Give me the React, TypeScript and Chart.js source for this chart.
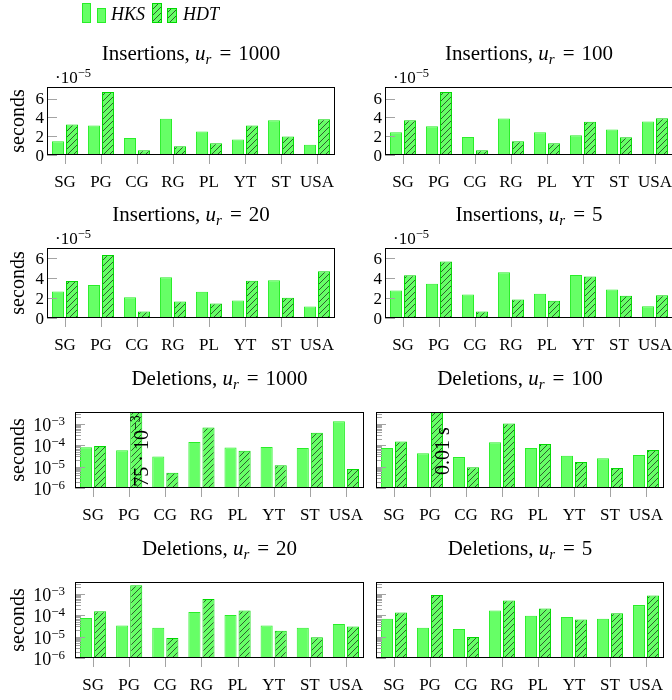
import React, { useEffect, useRef } from "react";
import { Chart, registerables } from "chart.js";

Chart.register(...registerables);

const SERIF = '"Liberation Serif", "DejaVu Serif", serif';

// Graph families on the x axis
const categories = ["SG", "PG", "CG", "RG", "PL", "YT", "ST", "USA"];

// Insertion times per update, in units of 1e-5 s
const insHKS1000 = [1.46, 3.14, 1.82, 3.86, 2.5, 1.64, 3.71, 1.1];
const insHDT1000 = [3.25, 6.71, 0.5, 0.93, 1.25, 3.14, 1.96, 3.82];
const insHKS100 = [2.43, 3.07, 1.93, 3.89, 2.43, 2.1, 2.71, 3.57];
const insHDT100 = [3.71, 6.71, 0.5, 1.46, 1.25, 3.54, 1.89, 3.93];
const insHKS20 = [2.66, 3.3, 2.09, 4.08, 2.63, 1.75, 3.77, 1.15];
const insHDT20 = [3.71, 6.3, 0.64, 1.65, 1.45, 3.74, 2.02, 4.68];
const insHKS5 = [2.76, 3.44, 2.36, 4.58, 2.43, 4.31, 2.86, 1.18];
const insHDT5 = [4.28, 5.66, 0.64, 1.85, 1.72, 4.15, 2.22, 2.29];

// Deletion times per update, in seconds
const delHKS1000 = [8.0e-5, 5.8e-5, 3.0e-5, 1.43e-4, 7.8e-5, 8.4e-5, 7.5e-5, 1.33e-3];
const delHDT1000 = [9.3e-5, 75e-3, 5.2e-6, 6.8e-4, 5.6e-5, 1.15e-5, 3.9e-4, 7.8e-6];
const delHKS100 = [7.5e-5, 4.2e-5, 2.8e-5, 1.38e-4, 7.5e-5, 3.2e-5, 2.5e-5, 3.5e-5];
const delHDT100 = [1.48e-4, 0.01, 9.3e-6, 1.04e-3, 1.15e-4, 1.65e-5, 8.7e-6, 6.0e-5];
const delHKS20 = [7.5e-5, 3.3e-5, 2.6e-5, 1.43e-4, 1.04e-4, 3.3e-5, 2.6e-5, 3.9e-5];
const delHDT20 = [1.54e-4, 2.55e-3, 8.7e-6, 5.8e-4, 1.66e-4, 1.9e-5, 9.3e-6, 3.0e-5];
const delHKS5 = [6.9e-5, 2.6e-5, 2.3e-5, 1.66e-4, 9.6e-5, 8.4e-5, 6.9e-5, 3.0e-4];
const delHDT5 = [1.33e-4, 8.9e-4, 9.6e-6, 4.9e-4, 2.05e-4, 6.3e-5, 1.24e-4, 8.3e-4];

// Axis ticks
const linearTicks = [0, 2, 4, 6];
const logDecades = [-6, -5, -4, -3];
const logMin = 1e-6;
const logMax = 3.6e-3;

const FILL = "rgb(102,255,102)";
const HKS_EDGE = "rgb(40,238,40)";
const HDT_EDGE = "rgb(0,215,0)";
const TICK = "#a3a3a3";

interface Run {
  text: string;
  size: number;
  italic?: boolean;
  dy?: number;
  gap?: number;
}

interface PanelSpec {
  op: string;
  ur: string;
  hks: number[];
  hdt: number[];
  log: boolean;
  yMax: number;
  box: [number, number, number, number]; // canvas x, y, w, h
  area: [number, number, number, number]; // frame left, top, right, bottom
  yLabels: boolean;
  yTitle: boolean;
  legend?: boolean;
  note?: (v: number) => Run[];
}

const fontOf = (r: Run) => `${r.italic ? "italic " : ""}${r.size}px ${SERIF}`;

function runsWidth(ctx: CanvasRenderingContext2D, runs: Run[]) {
  let w = 0;
  for (const r of runs) {
    ctx.font = fontOf(r);
    w += (r.gap || 0) + ctx.measureText(r.text).width;
  }
  return w;
}

function drawRuns(
  ctx: CanvasRenderingContext2D,
  runs: Run[],
  x: number,
  y: number,
  align: "left" | "center" | "right"
) {
  const w = runsWidth(ctx, runs);
  let cx = align === "left" ? x : align === "center" ? x - w / 2 : x - w;
  ctx.textAlign = "left";
  ctx.textBaseline = "alphabetic";
  for (const r of runs) {
    ctx.font = fontOf(r);
    cx += r.gap || 0;
    ctx.fillText(r.text, cx, y + (r.dy || 0));
    cx += ctx.measureText(r.text).width;
  }
}

function makeHatch(): CanvasPattern | string {
  const s = 6;
  const c = document.createElement("canvas");
  c.width = s;
  c.height = s;
  const g = c.getContext("2d");
  if (!g) return FILL;
  g.fillStyle = FILL;
  g.fillRect(0, 0, s, s);
  g.strokeStyle = "rgba(20,20,20,0.8)";
  g.lineWidth = 0.85;
  g.beginPath();
  g.moveTo(-1, s + 1);
  g.lineTo(s + 1, -1);
  g.moveTo(-1, 1);
  g.lineTo(1, -1);
  g.moveTo(s - 1, s + 1);
  g.lineTo(s + 1, s - 1);
  g.stroke();
  return g.createPattern(c, "repeat") || FILL;
}

const LEFT_X = 0;
const LEFT_W = 368;
const RIGHT_X = 368;
const RIGHT_W = 312;

const panels: PanelSpec[] = [
  {
    op: "Insertions", ur: "1000", hks: insHKS1000, hdt: insHDT1000, log: false, yMax: 7.25,
    box: [LEFT_X, 0, LEFT_W, 195], area: [47, 87, 335, 155], yLabels: true, yTitle: true, legend: true,
  },
  {
    op: "Insertions", ur: "100", hks: insHKS100, hdt: insHDT100, log: false, yMax: 7.25,
    box: [RIGHT_X, 0, RIGHT_W, 195], area: [385, 87, 673, 155], yLabels: true, yTitle: false,
  },
  {
    op: "Insertions", ur: "20", hks: insHKS20, hdt: insHDT20, log: false, yMax: 7.01,
    box: [LEFT_X, 195, LEFT_W, 165], area: [47, 248, 335, 318], yLabels: true, yTitle: true,
  },
  {
    op: "Insertions", ur: "5", hks: insHKS5, hdt: insHDT5, log: false, yMax: 7.01,
    box: [RIGHT_X, 195, RIGHT_W, 165], area: [385, 248, 673, 318], yLabels: true, yTitle: false,
  },
  {
    op: "Deletions", ur: "1000", hks: delHKS1000, hdt: delHDT1000, log: true, yMax: logMax,
    box: [LEFT_X, 360, LEFT_W, 170], area: [75, 412, 364, 488], yLabels: true, yTitle: true,
    note: (v) => [
      { text: `${Math.round(v * 1e3)} · 10`, size: 20 },
      { text: "\u22123", size: 14, dy: -8 },
    ],
  },
  {
    op: "Deletions", ur: "100", hks: delHKS100, hdt: delHDT100, log: true, yMax: logMax,
    box: [RIGHT_X, 360, RIGHT_W, 170], area: [376, 412, 664, 488], yLabels: false, yTitle: false,
    note: (v) => [{ text: `${v} s`, size: 20 }],
  },
  {
    op: "Deletions", ur: "20", hks: delHKS20, hdt: delHDT20, log: true, yMax: logMax,
    box: [LEFT_X, 530, LEFT_W, 170], area: [75, 582, 364, 658], yLabels: true, yTitle: true,
  },
  {
    op: "Deletions", ur: "5", hks: delHKS5, hdt: delHDT5, log: true, yMax: logMax,
    box: [RIGHT_X, 530, RIGHT_W, 170], area: [376, 582, 664, 658], yLabels: false, yTitle: false,
  },
];

function decoratePlugin(spec: PanelSpec, hatch: CanvasPattern | string) {
  const [ox, oy] = spec.box;
  return {
    id: "pgfDecor",
    afterDatasetsDraw(chart: Chart) {
      const ctx = chart.ctx;
      const { left, top, right, bottom } = chart.chartArea;
      const xs = chart.scales.x;
      const ys = chart.scales.y;
      ctx.save();

      // tick marks: y inside the frame, x below it
      ctx.lineWidth = 1;
      ctx.strokeStyle = TICK;
      ctx.beginPath();
      if (spec.log) {
        for (const e of logDecades) {
          for (let k = 1; k <= 9; k++) {
            const v = k * Math.pow(10, e);
            if (v > ys.max * 1.0001 || v < ys.min * 0.9999) continue;
            const py = Math.round(ys.getPixelForValue(v)) + 0.5;
            ctx.moveTo(left, py);
            ctx.lineTo(left + (k === 1 ? 10 : 6), py);
          }
        }
      } else {
        for (const t of linearTicks) {
          const py = Math.round(ys.getPixelForValue(t)) + 0.5;
          ctx.moveTo(left, py);
          ctx.lineTo(left + 10, py);
        }
      }
      categories.forEach((_, i) => {
        const px = Math.round(xs.getPixelForValue(i)) + 0.5;
        ctx.moveTo(px, bottom);
        ctx.lineTo(px, bottom + 9);
      });
      ctx.stroke();

      // frame
      ctx.strokeStyle = "#000";
      ctx.strokeRect(left + 0.5, top + 0.5, right - left - 1, bottom - top - 1);

      ctx.fillStyle = "#000";

      // x tick labels
      ctx.font = `17px ${SERIF}`;
      ctx.textAlign = "center";
      ctx.textBaseline = "alphabetic";
      categories.forEach((c, i) => {
        ctx.fillText(c, xs.getPixelForValue(i), bottom + 32);
      });

      // y tick labels
      if (spec.log) {
        if (spec.yLabels) {
          for (const e of logDecades) {
            const py = ys.getPixelForValue(Math.pow(10, e));
            drawRuns(
              ctx,
              [
                { text: "10", size: 18 },
                { text: `\u2212${-e}`, size: 13, dy: -6 },
              ],
              left - 10,
              py + 7,
              "right"
            );
          }
        }
      } else {
        ctx.font = `17px ${SERIF}`;
        ctx.textAlign = "right";
        for (const t of linearTicks) {
          ctx.fillText(String(t), left - 3, ys.getPixelForValue(t) + 5.5);
        }
        drawRuns(
          ctx,
          [
            { text: "\u00b710", size: 17 },
            { text: "\u22125", size: 12.5, dy: -6 },
          ],
          left + 8,
          top - 4,
          "left"
        );
      }

      // panel title
      drawRuns(
        ctx,
        [
          { text: `${spec.op}, `, size: 21 },
          { text: "u", size: 21, italic: true },
          { text: "r", size: 15, italic: true, dy: 4 },
          { text: "=", size: 21, gap: 8 },
          { text: spec.ur, size: 21, gap: 7 },
        ],
        (left + right) / 2,
        top - 27,
        "center"
      );

      // y axis title
      if (spec.yTitle) {
        ctx.save();
        ctx.translate(24 - ox, (top + bottom) / 2);
        ctx.rotate(-Math.PI / 2);
        ctx.font = `20px ${SERIF}`;
        ctx.textAlign = "center";
        ctx.fillText("seconds", 0, 0);
        ctx.restore();
      }

      // value of the HDT bar that runs past the top of the axis
      if (spec.note) {
        const idx = spec.hdt.findIndex((v) => v > ys.max);
        if (idx >= 0) {
          ctx.save();
          ctx.translate(xs.getPixelForValue(idx) + 19, (top + bottom) / 2 + 1);
          ctx.rotate(-Math.PI / 2);
          drawRuns(ctx, spec.note(spec.hdt[idx]), 0, 0, "center");
          ctx.restore();
        }
      }

      // legend
      if (spec.legend) {
        const lx = -ox;
        const ly = -oy;
        const mark = (x: number, y: number, w: number, h: number, fill: CanvasPattern | string, edge: string) => {
          ctx.fillStyle = fill;
          ctx.fillRect(lx + x, ly + y, w, h);
          ctx.strokeStyle = edge;
          ctx.strokeRect(lx + x + 0.5, ly + y + 0.5, w - 1, h - 1);
        };
        mark(82, 3, 9, 20, FILL, HKS_EDGE);
        mark(97, 8, 9, 15, FILL, HKS_EDGE);
        mark(152, 3, 10, 20, hatch, HDT_EDGE);
        mark(167, 8, 10, 15, hatch, HDT_EDGE);
        ctx.fillStyle = "#000";
        ctx.font = `italic 18px ${SERIF}`;
        ctx.textAlign = "left";
        ctx.fillText("HKS", lx + 111, ly + 20);
        ctx.fillText("HDT", lx + 183, ly + 20);
      }

      ctx.restore();
    },
  };
}

export default function App() {
  const refs = useRef<(HTMLCanvasElement | null)[]>([]);

  useEffect(() => {
    const hatch = makeHatch();
    const charts: Chart[] = [];
    panels.forEach((spec, i) => {
      const canvas = refs.current[i];
      if (!canvas) return;
      const [ox, oy, w, h] = spec.box;
      const [l, t, r, b] = spec.area;
      const chart = new Chart(canvas, {
        type: "bar",
        data: {
          labels: categories,
          datasets: [
            {
              label: "HKS",
              data: spec.hks,
              backgroundColor: FILL,
              borderColor: HKS_EDGE,
              borderWidth: 1,
              borderSkipped: false,
              clip: 0,
            },
            {
              label: "HDT",
              data: spec.hdt,
              backgroundColor: hatch as any,
              borderColor: HDT_EDGE,
              borderWidth: 1,
              borderSkipped: false,
              clip: 0,
            },
          ],
        },
        options: {
          animation: false,
          responsive: false,
          devicePixelRatio: 1,
          events: [],
          layout: {
            padding: { left: l - ox, top: t - oy, right: ox + w - r, bottom: oy + h - b },
          },
          datasets: { bar: { categoryPercentage: 0.78, barPercentage: 0.857 } },
          plugins: {
            legend: { display: false },
            title: { display: false },
            tooltip: { enabled: false },
          },
          scales: {
            x: { display: false, offset: true },
            y: spec.log
              ? { type: "logarithmic", display: false, min: logMin, max: spec.yMax }
              : { type: "linear", display: false, min: 0, max: spec.yMax },
          },
        } as any,
        plugins: [decoratePlugin(spec, hatch)],
      });
      charts.push(chart);
    });
    return () => charts.forEach((c) => c.destroy());
  }, []);

  return (
    <div
      style={{
        position: "absolute",
        left: 0,
        top: 0,
        width: 672,
        height: 700,
        overflow: "hidden",
        background: "#fff",
      }}
    >
      {panels.map((p, i) => (
        <canvas
          key={i}
          ref={(el) => {
            refs.current[i] = el;
          }}
          width={p.box[2]}
          height={p.box[3]}
          style={{
            position: "absolute",
            left: p.box[0],
            top: p.box[1],
            width: p.box[2],
            height: p.box[3],
          }}
        />
      ))}
    </div>
  );
}
